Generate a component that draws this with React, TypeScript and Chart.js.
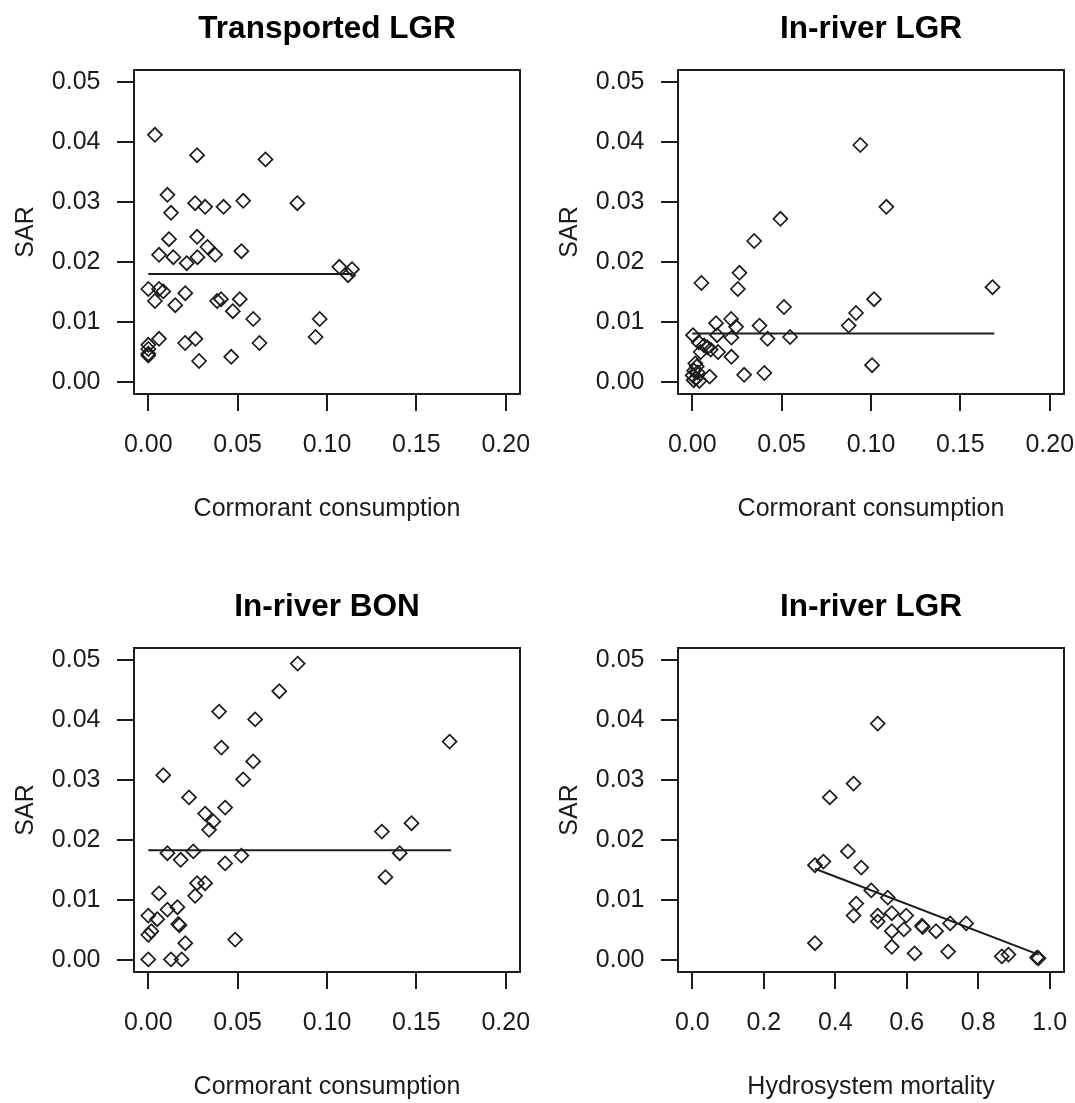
import React, { useEffect, useRef } from "react";
import { Chart, registerables } from "chart.js";

Chart.register(...registerables);

// ---------- Data ----------
// Panel 1: Transported LGR (SAR vs cormorant consumption)
const trLgrX = [0.0037, 0.0273, 0.0656, 0.0107, 0.0262, 0.0318, 0.0421, 0.0531, 0.0834, 0.0127, 0.0116, 0.0273, 0.0331, 0.0374, 0.0521, 0.006, 0.014, 0.0275, 0.0215, 0.1069, 0.114, 0.1118, 0.0, 0.006, 0.0084, 0.0207, 0.0037, 0.0151, 0.0385, 0.0407, 0.0512, 0.0473, 0.0587, 0.0959, 0.0936, 0.006, 0.0206, 0.0264, 0.0622, 0.0, 0.0, 0.0, 0.0, 0.0284, 0.0464];
const trLgrY = [0.0412, 0.0378, 0.0371, 0.0312, 0.0298, 0.0292, 0.0292, 0.0302, 0.0298, 0.0282, 0.0238, 0.0242, 0.0225, 0.0212, 0.0218, 0.0212, 0.0208, 0.0208, 0.0198, 0.0192, 0.0188, 0.0178, 0.0155, 0.0155, 0.0151, 0.0148, 0.0135, 0.0128, 0.0135, 0.0138, 0.0138, 0.0118, 0.0105, 0.0105, 0.0075, 0.0072, 0.0065, 0.0072, 0.0065, 0.0062, 0.0055, 0.0047, 0.0044, 0.0035, 0.0042];
const trLgrFitX = [0.0, 0.114];
const trLgrFitY = [0.018, 0.018];

// Panel 2: In-river LGR (SAR vs cormorant consumption)
const irLgrX = [0.094, 0.1086, 0.0493, 0.0346, 0.0264, 0.0051, 0.0255, 0.168, 0.1017, 0.0513, 0.0916, 0.0875, 0.0217, 0.0133, 0.0245, 0.0376, 0.0004, 0.0139, 0.0219, 0.0421, 0.0547, 0.0036, 0.0066, 0.0084, 0.0103, 0.0047, 0.0144, 0.0219, 0.1006, 0.029, 0.0403, 0.0097, 0.0017, 0.0025, 0.001, 0.0002, 0.003, 0.002, 0.004, 0.0008];
const irLgrY = [0.0395, 0.0292, 0.0272, 0.0235, 0.0182, 0.0165, 0.0155, 0.0158, 0.0138, 0.0125, 0.0115, 0.0094, 0.0105, 0.0098, 0.0092, 0.0094, 0.0078, 0.0078, 0.0074, 0.0072, 0.0075, 0.0066, 0.0061, 0.0058, 0.0054, 0.005, 0.005, 0.0042, 0.0028, 0.0012, 0.0015, 0.0009, 0.0031, 0.0026, 0.0019, 0.0011, 0.0016, 0.0006, 0.0002, 0.0003];
const irLgrFitX = [0.0, 0.169];
const irLgrFitY = [0.0081, 0.0081];

// Panel 3: In-river BON (SAR vs cormorant consumption)
const irBonX = [0.0836, 0.0733, 0.0396, 0.0598, 0.0409, 0.1686, 0.0587, 0.0084, 0.0531, 0.0228, 0.043, 0.0318, 0.0364, 0.034, 0.1307, 0.1473, 0.0107, 0.0252, 0.0181, 0.0521, 0.043, 0.1407, 0.1327, 0.0273, 0.0318, 0.0262, 0.006, 0.0107, 0.0163, 0.0, 0.005, 0.0168, 0.0174, 0.0017, 0.0, 0.0207, 0.0486, 0.0, 0.0127, 0.0187];
const irBonY = [0.0494, 0.0448, 0.0414, 0.0401, 0.0354, 0.0364, 0.0331, 0.0308, 0.0301, 0.0271, 0.0254, 0.0244, 0.0231, 0.0217, 0.0214, 0.0228, 0.0178, 0.0181, 0.0167, 0.0174, 0.0161, 0.0178, 0.0138, 0.0128, 0.0128, 0.0107, 0.0111, 0.0084, 0.0088, 0.0074, 0.0068, 0.006, 0.0058, 0.0048, 0.0042, 0.0028, 0.0034, 0.0001, 0.0001, 0.0001];
const irBonFitX = [0.0, 0.1695];
const irBonFitY = [0.0183, 0.0183];

// Panel 4: In-river LGR (SAR vs hydrosystem mortality)
const hydroX = [0.5188, 0.4512, 0.3846, 0.4353, 0.3668, 0.3433, 0.4728, 0.5009, 0.5469, 0.4587, 0.4512, 0.5188, 0.5188, 0.5582, 0.5985, 0.5919, 0.5582, 0.6426, 0.6445, 0.682, 0.7214, 0.7664, 0.5582, 0.622, 0.7158, 0.3433, 0.8659, 0.8846, 0.9644, 0.9685];
const hydroY = [0.0394, 0.0294, 0.0271, 0.0181, 0.0164, 0.0158, 0.0154, 0.0116, 0.0104, 0.0094, 0.0074, 0.0074, 0.0064, 0.0078, 0.0074, 0.0051, 0.0048, 0.0057, 0.0055, 0.0048, 0.0061, 0.0061, 0.0022, 0.0011, 0.0014, 0.0028, 0.0006, 0.0009, 0.0004, 0.0003];
const hydroFitX = [0.3433, 0.969];
const hydroFitY = [0.0152, 0.0009];

// Tick labels
const sarTicks = [0, 0.01, 0.02, 0.03, 0.04, 0.05];
const consTicks = [0, 0.05, 0.1, 0.15, 0.2];
const mortTicks = [0, 0.2, 0.4, 0.6, 0.8, 1.0];

const titles = ["Transported LGR", "In-river LGR", "In-river BON", "In-river LGR"];
const xTitles = ["Cormorant consumption", "Cormorant consumption", "Cormorant consumption", "Hydrosystem mortality"];
const yTitle = "SAR";

// ---------- Layout ----------
const FONT = "'Liberation Sans', Arial, Helvetica, sans-serif";
const INK = "#1c1c1c";
const CANVAS_W = 530;
const CANVAS_H = 525;
const AREA_LEFT = 134;
const AREA_TOP = 70;
const AREA_RIGHT = 520;
const AREA_BOTTOM = 394;
const TITLE_SIZE = 31.5;
const TITLE_PAD_TOP = 10;

const boxPlugin = {
  id: "rbox",
  afterDraw(chart: any) {
    const { ctx, chartArea: a } = chart;
    ctx.save();
    ctx.strokeStyle = INK;
    ctx.lineWidth = 2;
    ctx.strokeRect(a.left, a.top, a.right - a.left, a.bottom - a.top);
    ctx.restore();
  },
};

type PanelProps = {
  title: string;
  xTitle: string;
  xs: number[];
  ys: number[];
  fitX: number[];
  fitY: number[];
  xTicks: number[];
  xMin: number;
  xMax: number;
  xDecimals: number;
  left: number;
  top: number;
};

function Panel(p: PanelProps) {
  const ref = useRef<HTMLCanvasElement | null>(null);
  useEffect(() => {
    if (!ref.current) return;
    const points = p.xs.map((x, i) => ({ x, y: p.ys[i] }));
    const fit = p.fitX.map((x, i) => ({ x, y: p.fitY[i] }));
    const tickFont = { family: FONT, size: 25 };
    const chart = new Chart(ref.current, {
      type: "scatter",
      data: {
        datasets: [
          {
            data: points,
            pointStyle: "rectRot",
            pointRadius: 7,
            borderColor: INK,
            borderWidth: 1.7,
            backgroundColor: "rgba(0,0,0,0)",
            showLine: false,
          } as any,
          {
            data: fit,
            showLine: true,
            pointRadius: 0,
            borderColor: INK,
            borderWidth: 2,
            fill: false,
          } as any,
        ],
      },
      options: {
        animation: false,
        responsive: false,
        devicePixelRatio: 1,
        layout: { padding: { left: 0, top: 0, right: CANVAS_W - AREA_RIGHT, bottom: 0 } },
        plugins: {
          legend: { display: false },
          tooltip: { enabled: false },
          title: {
            display: true,
            fullSize: false,
            text: p.title,
            color: "#000",
            font: { family: FONT, size: TITLE_SIZE, weight: "bold" },
            padding: { top: TITLE_PAD_TOP, bottom: AREA_TOP - TITLE_PAD_TOP - TITLE_SIZE * 1.2 },
          },
        },
        scales: {
          x: {
            type: "linear",
            min: p.xMin,
            max: p.xMax,
            afterBuildTicks: (s: any) => {
              s.ticks = p.xTicks.map((v) => ({ value: v }));
            },
            afterFit: (s: any) => {
              s.height = CANVAS_H - AREA_BOTTOM;
              s.paddingLeft = 0;
              s.paddingRight = 0;
            },
            grid: {
              display: true,
              drawOnChartArea: false,
              drawTicks: true,
              tickLength: 17,
              color: INK,
              lineWidth: 2,
            },
            border: { display: false },
            ticks: {
              font: tickFont,
              color: INK,
              padding: 19,
              maxRotation: 0,
              autoSkip: false,
              callback: (v: any) => Number(v).toFixed(p.xDecimals),
            },
            title: {
              display: true,
              text: p.xTitle,
              color: INK,
              font: { family: FONT, size: 25 },
              padding: { top: 0, bottom: 1 },
            },
          },
          y: {
            type: "linear",
            min: -0.002,
            max: 0.052,
            afterBuildTicks: (s: any) => {
              s.ticks = sarTicks.map((v) => ({ value: v }));
            },
            afterFit: (s: any) => {
              s.width = AREA_LEFT;
              s.paddingTop = 0;
              s.paddingBottom = 0;
            },
            grid: {
              display: true,
              drawOnChartArea: false,
              drawTicks: true,
              tickLength: 17,
              color: INK,
              lineWidth: 2,
            },
            border: { display: false },
            ticks: {
              font: tickFont,
              color: INK,
              padding: 16.5,
              autoSkip: false,
              callback: (v: any) => Number(v).toFixed(2),
            },
            title: {
              display: true,
              text: yTitle,
              color: INK,
              font: { family: FONT, size: 25 },
              padding: { top: 11, bottom: 0 },
            },
          },
        },
      } as any,
      plugins: [boxPlugin],
    });
    return () => chart.destroy();
  }, []);
  return (
    <canvas
      ref={ref}
      width={CANVAS_W}
      height={CANVAS_H}
      style={{ position: "absolute", left: p.left, top: p.top, width: CANVAS_W, height: CANVAS_H }}
    />
  );
}

export default function App() {
  return (
    <div style={{ position: "absolute", left: 0, top: 0, width: 1075, height: 1103, background: "#fff" }}>
      <Panel title={titles[0]} xTitle={xTitles[0]} xs={trLgrX} ys={trLgrY} fitX={trLgrFitX} fitY={trLgrFitY}
        xTicks={consTicks} xMin={-0.008} xMax={0.208} xDecimals={2} left={0} top={0} />
      <Panel title={titles[1]} xTitle={xTitles[1]} xs={irLgrX} ys={irLgrY} fitX={irLgrFitX} fitY={irLgrFitY}
        xTicks={consTicks} xMin={-0.008} xMax={0.208} xDecimals={2} left={544} top={0} />
      <Panel title={titles[2]} xTitle={xTitles[2]} xs={irBonX} ys={irBonY} fitX={irBonFitX} fitY={irBonFitY}
        xTicks={consTicks} xMin={-0.008} xMax={0.208} xDecimals={2} left={0} top={578} />
      <Panel title={titles[3]} xTitle={xTitles[3]} xs={hydroX} ys={hydroY} fitX={hydroFitX} fitY={hydroFitY}
        xTicks={mortTicks} xMin={-0.04} xMax={1.04} xDecimals={1} left={544} top={578} />
    </div>
  );
}
